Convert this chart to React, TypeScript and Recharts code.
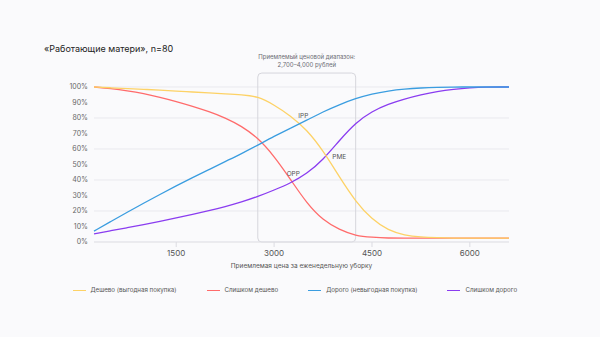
import {
  LineChart,
  Line,
  XAxis,
  YAxis,
  CartesianGrid,
  ReferenceArea,
  ReferenceDot,
} from 'recharts';

const PRICES = [
  240, 500, 750, 1000, 1250, 1500, 1750, 2000, 2250, 2500, 2750, 3000, 3250, 3500,
  3750, 4000, 4250, 4500, 4750, 5000, 5250, 5500, 5750, 6000, 6250, 6500, 6600,
];
// Дешево (выгодная покупка)
const CHEAP = [
  100, 99.5, 99, 98.5, 98, 97.3, 96.8, 96.2, 95.6, 95, 94, 88.5, 81.5, 72.5,
  59, 42, 26, 14.5, 7.5, 4.3, 3.2, 2.8, 2.5, 2.5, 2.5, 2.5, 2.5,
];
// Слишком дешево
const TOO_CHEAP = [
  100, 99, 97.6, 95.8, 93.4, 90.7, 87.6, 84.2, 80.2, 74.8, 67.3, 55.5, 40.5, 25,
  14, 8, 4, 3, 2.5, 2.5, 2.5, 2.5, 2.5, 2.5, 2.5, 2.5, 2.5,
];
// Дорого (невыгодная покупка)
const EXPENSIVE = [
  7, 13.3, 19.2, 25, 30.7, 36.2, 41.5, 46.7, 51.9, 57, 62.5, 68.2, 73.4, 78.6,
  84, 88.6, 92.6, 95.6, 97.5, 98.7, 99.4, 99.8, 100, 100, 100, 100, 100,
];
// Слишком дорого
const TOO_EXPENSIVE = [
  5.3, 7.3, 9.2, 11.2, 13.3, 15.5, 17.8, 20.2, 22.8, 25.8, 29.3, 33.5, 38, 44,
  53, 65.5, 77, 84.3, 89, 92.3, 95, 97.2, 98.6, 99.5, 100, 100, 100,
];

const X_TICKS = [1500, 3000, 4500, 6000];
const Y_TICKS = [0, 10, 20, 30, 40, 50, 60, 70, 80, 90, 100];

const RANGE = [2750, 4250];
const POINTS = [
  { name: 'IPP', x: 3448, y: 77, position: 'top' as const, offset: 5 },
  { name: 'OPP', x: 3294, y: 38.7, position: 'top' as const, offset: 6 },
  { name: 'PME', x: 3815, y: 55.2, position: 'right' as const, offset: 5 },
];

const SERIES = [
  { key: 'tooCheap', label: 'Слишком дешево', color: '#ff6b6b' },
  { key: 'tooExpensive', label: 'Слишком дорого', color: '#8a3cf0' },
  { key: 'cheap', label: 'Дешево (выгодная покупка)', color: '#fdd266' },
  { key: 'expensive', label: 'Дорого (невыгодная покупка)', color: '#3a9de0' },
];
const LEGEND_ORDER = ['cheap', 'tooCheap', 'expensive', 'tooExpensive'];

const data = PRICES.map((p, i) => ({
  price: p,
  cheap: CHEAP[i],
  tooCheap: TOO_CHEAP[i],
  expensive: EXPENSIVE[i],
  tooExpensive: TOO_EXPENSIVE[i],
}));

const FONT = 'Inter, "Noto Sans", sans-serif';

function RangeLabel(props: any) {
  const vb = props.viewBox || {};
  const cx = vb.x + vb.width / 2;
  return (
    <g fill="#6b6b73" fontSize={6} fontFamily={FONT} textAnchor="middle">
      <text x={cx} y={vb.y - 14}>Приемлемый ценовой диапазон:</text>
      <text x={cx} y={vb.y - 6}>2,700–4,000 рублей</text>
    </g>
  );
}

export default function App() {
  return (
    <div
      style={{
        position: 'relative',
        width: 600,
        height: 337,
        background: '#fafafc',
        fontFamily: FONT,
        overflow: 'hidden',
      }}
    >
      <style>{'body{margin:0}'}</style>
      <div
        style={{
          position: 'absolute',
          left: 44,
          top: 43,
          fontSize: 9,
          color: '#222',
        }}
      >
        «Работающие матери», n=80
      </div>

      <LineChart
        width={600}
        height={337}
        data={data}
        margin={{ top: 87, right: 91, bottom: 65, left: 0 }}
      >
        <CartesianGrid vertical={false} stroke="#e9e9ee" />
        <XAxis
          dataKey="price"
          type="number"
          domain={[240, 6600]}
          ticks={X_TICKS}
          height={30}
          tick={{ fontSize: 8, fill: '#555', fontFamily: FONT }}
          tickSize={5}
          tickMargin={3}
          axisLine={{ stroke: '#e3e3e8' }}
          tickLine={{ stroke: '#dcdce2' }}
          label={{
            value: 'Приемлемая цена за еженедельную уборку',
            position: 'insideBottom',
            offset: 4,
            fontSize: 6.5,
            fill: '#555',
            fontFamily: FONT,
          }}
        />
        <YAxis
          type="number"
          domain={[0, 100]}
          ticks={Y_TICKS}
          width={94}
          tickFormatter={(v) => `${v}%`}
          tick={{ fontSize: 7, fill: '#666', fontFamily: FONT }}
          tickSize={0}
          tickMargin={6}
          axisLine={false}
          tickLine={false}
        />
        <ReferenceArea
          x1={RANGE[0]}
          x2={RANGE[1]}
          y1={0}
          y2={109}
          ifOverflow="visible"
          fill="none"
          stroke="#d6d6dc"
          strokeWidth={1}
          radius={4}
          label={<RangeLabel />}
        />
        {SERIES.map((s) => (
          <Line
            key={s.key}
            type="basis"
            dataKey={s.key}
            stroke={s.color}
            strokeWidth={1.3}
            dot={false}
            activeDot={false}
            isAnimationActive={false}
          />
        ))}
        {POINTS.map((p) => (
          <ReferenceDot
            key={p.name}
            x={p.x}
            y={p.y}
            r={0}
            fill="none"
            stroke="none"
            label={{
              value: p.name,
              position: p.position,
              offset: p.offset,
              fontSize: 6.5,
              fill: '#555',
              fontFamily: FONT,
            }}
          />
        ))}
      </LineChart>

      <div
        style={{
          position: 'absolute',
          left: 72.5,
          top: 286,
          display: 'flex',
          gap: 30,
          fontSize: 6.2,
          color: '#555',
          lineHeight: '8px',
        }}
      >
        {LEGEND_ORDER.map((k) => {
          const s = SERIES.find((x) => x.key === k)!;
          return (
            <div key={k} style={{ display: 'flex', alignItems: 'center', gap: 5 }}>
              <span
                style={{
                  width: 13,
                  height: 0,
                  borderTop: `1.5px solid ${s.color}`,
                  display: 'inline-block',
                  flexShrink: 0,
                }}
              />
              <span>{s.label}</span>
            </div>
          );
        })}
      </div>
    </div>
  );
}
